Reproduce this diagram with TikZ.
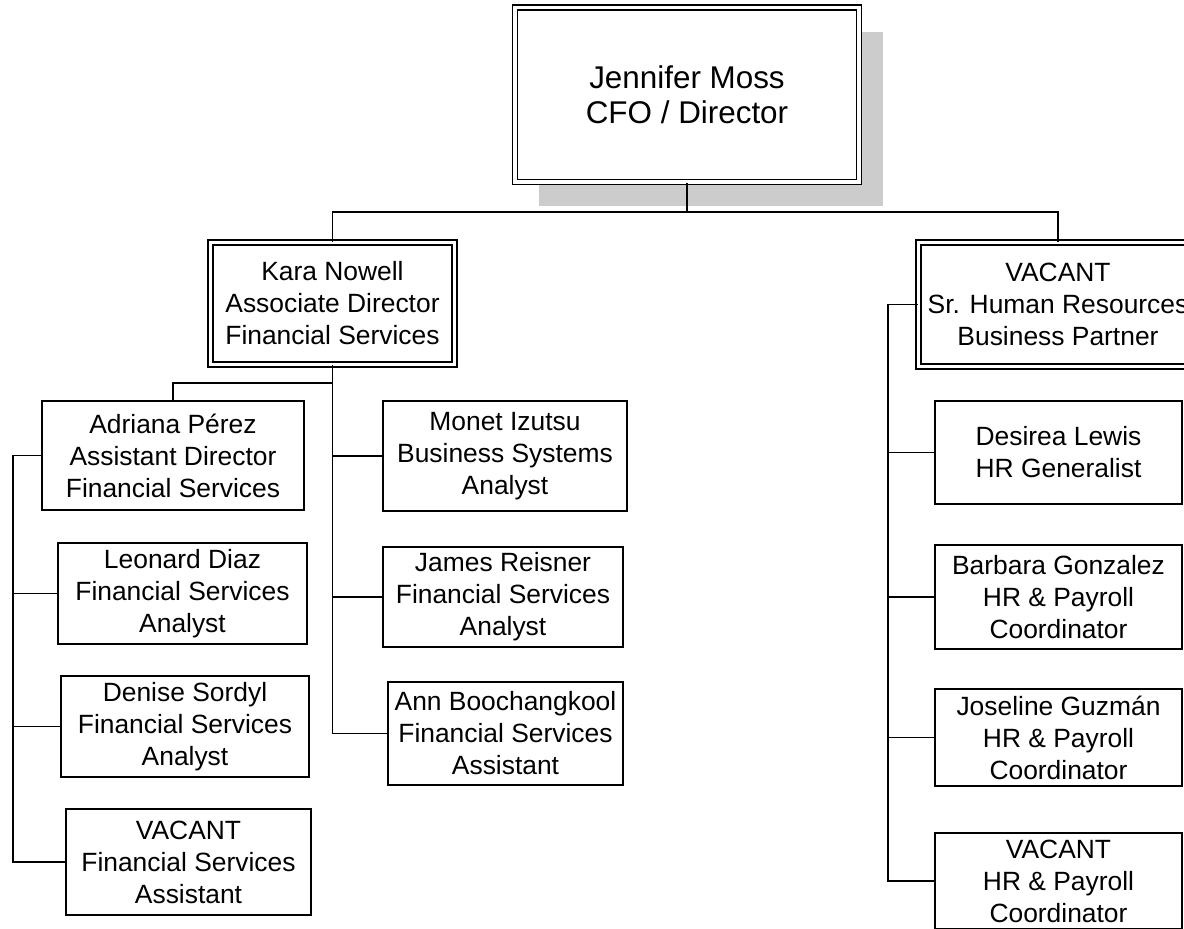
\documentclass[tikz,border=0pt]{standalone}
\usepackage{fontspec}
\setmainfont{Liberation Sans}
\usetikzlibrary{shadows,calc}
\definecolor{Oshade}{RGB}{204,204,204}
\newcommand{\Opost}[6]{%
    \node[post, minimum width=#4*0.5pt, minimum height=#5*0.5pt] (#1) at (#2,#3) {#6};
  }

\begin{document}
\begin{tikzpicture}[x=0.5pt,y=-0.5pt, line width=0.65pt,
    post/.style={draw, fill=white, align=center, inner sep=0pt,
      font=\fontsize{13.2}{16}\selectfont},
    headpost/.style={post, double, double distance=1.85pt,
      font=\fontsize{15.7}{17.5}\selectfont}]
  \useasboundingbox (0,0) rectangle (1184,928);
  \clip (0,0) rectangle (1184,928);

  % ------------------------------------------------
  % top of the chart
  % ------------------------------------------------
  \node[headpost, minimum width=171.75pt, minimum height=87.25pt,
    drop shadow={shadow xshift=12pt, shadow yshift=-12pt, fill=Oshade, opacity=1}]
    (ceo) at (687,94.75) {Jennifer Moss\\CFO / Director};

  \node[post, double, double distance=1.85pt, minimum width=122pt, minimum height=61pt]
    (kara) at (332.5,303.5) {Kara Nowell\\Associate Director\\Financial Services};
  \node[post, double, double distance=1.85pt, minimum width=139.5pt, minimum height=62pt]
    (hr) at (1058,304.5) {VACANT\\Sr. Human Resources\\Business Partner};

  % Financial services, left column
  \Opost{adriana}{173}{455.5}{262}{109}{Adriana Pérez\\Assistant Director\\Financial Services}
  \Opost{leonard}{182.5}{593.5}{249}{101}{Leonard Diaz\\Financial Services\\Analyst}
  \Opost{denise}{185}{726.5}{248}{101}{Denise Sordyl\\Financial Services\\Analyst}
  \Opost{vacfs}{188.5}{862}{245}{106}{VACANT\\Financial Services\\Assistant}

  % Financial services, middle column
  \Opost{monet}{505}{456}{244}{110}{Monet Izutsu\\Business Systems\\Analyst}
  \Opost{james}{503}{597}{240}{100}{James Reisner\\Financial Services\\Analyst}
  \Opost{ann}{505.5}{733.5}{235}{103}{Ann Boochangkool\\Financial Services\\Assistant}

  % Human resources
  \Opost{desirea}{1058.5}{452.5}{247}{103}{Desirea Lewis\\HR Generalist}
  \Opost{barbara}{1058.5}{597}{247}{104}{Barbara Gonzalez\\HR \& Payroll\\Coordinator}
  \Opost{joseline}{1058.5}{737.5}{247}{97}{Joseline Guzmán\\HR \& Payroll\\Coordinator}
  \Opost{vachr}{1058.5}{881}{247}{96}{VACANT\\HR \& Payroll\\Coordinator}

  % ------------------------------------------------
  % connectors
  % ------------------------------------------------
  \coordinate (topbus) at (687,212);
  \coordinate (kbus) at (332.5,383);
  \coordinate (lspine) at (13,0);
  \coordinate (rspine) at (888,0);

  \draw (ceo.south) -- (topbus);
  \draw (kara.north) |- (topbus) -| (hr.north);

  \draw (kara.south) |- (ann.west);
  \draw (kbus) -| (adriana.north);
  \foreach \n in {monet,james}
    \draw (\n.west) -- (\n.west -| kara.south);

  \draw (adriana.west) -| (lspine |- vacfs.west) -- (vacfs.west);
  \foreach \n in {leonard,denise}
    \draw (\n.west) -- (\n.west -| lspine);

  \draw (hr.west) -| (rspine |- vachr.west) -- (vachr.west);
  \foreach \n in {desirea,barbara,joseline}
    \draw (\n.west) -- (\n.west -| rspine);
\end{tikzpicture}
\end{document}
